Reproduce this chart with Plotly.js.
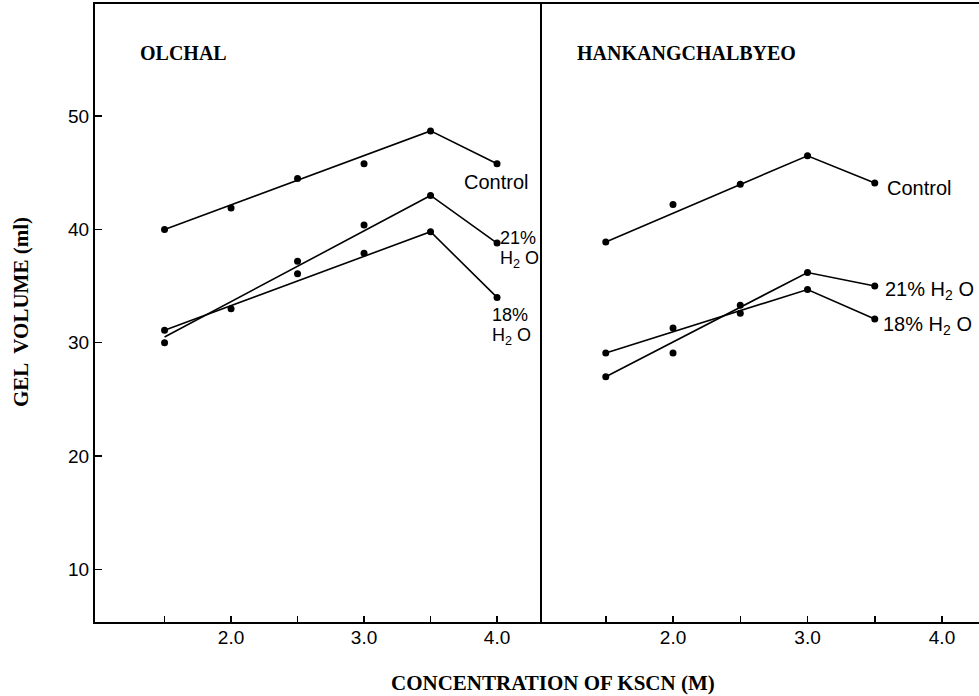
<!DOCTYPE html>
<html>
<head>
<meta charset="utf-8">
<script src="https://cdn.plot.ly/plotly-3.0.1.min.js"></script>
<style>
  html, body { margin: 0; padding: 0; background: #fff; }
  #chart { width: 979px; height: 696px; }
</style>
</head>
<body>
<div id="chart"></div>
<script>
// ---- Data ----
const olchalX = [1.5, 2.0, 2.5, 3.0, 3.5, 4.0];
const olchalControl = [40.0, 41.9, 44.5, 45.8, 48.7, 45.8];
const olchal21 = [30.0, null, 37.2, 40.4, 43.0, 38.8];
const olchal18 = [31.1, 33.0, 36.1, 37.9, 39.8, 34.0];

const hankX = [1.5, 2.0, 2.5, 3.0, 3.5];
const hankControl = [38.9, 42.2, 44.0, 46.5, 44.1];
const hank21 = [27.0, 29.1, 33.3, 36.2, 35.0];
const hank18 = [29.1, 31.3, 32.6, 34.7, 32.1];

// drawn (fitted) lines
const olchalFitX = [1.5, 3.5, 4.0];
const olchalControlFit = [40.0, 48.7, 45.8];
const olchal21Fit = [30.5, 43.0, 38.8];
const olchal18Fit = [31.1, 39.8, 34.0];

const hankFitX = [1.5, 3.0, 3.5];
const hankControlFit = [38.9, 46.5, 44.1];
const hank21Fit = [27.0, 36.2, 35.0];
const hank18Fit = [29.1, 34.7, 32.1];

const xTickVals = [2.0, 3.0, 4.0];
const xTickText = ['2.0', '3.0', '4.0'];
const xMinorTickVals = [1.5, 2.5, 3.5];
const yTickVals = [10, 20, 30, 40, 50];
const yTickText = ['10', '20', '30', '40', '50'];

const panelNames = ['OLCHAL', 'HANKANGCHALBYEO'];
const seriesLabels = ['Control', '21%', '18%'];

// ---- Traces ----
const traces = [];
function pts(x, y, xa) {
  traces.push({x: x, y: y, xaxis: xa, yaxis: 'y', type: 'scatter', mode: 'markers',
    marker: {color: '#000', size: 7}, showlegend: false, hoverinfo: 'skip', cliponaxis: false});
}
function line(x, y, xa) {
  traces.push({x: x, y: y, xaxis: xa, yaxis: 'y', type: 'scatter', mode: 'lines',
    line: {color: '#000', width: 1.6}, showlegend: false, hoverinfo: 'skip'});
}
line(olchalFitX, olchalControlFit, 'x');
line(olchalFitX, olchal21Fit, 'x');
line(olchalFitX, olchal18Fit, 'x');
pts(olchalX, olchalControl, 'x');
pts(olchalX, olchal21, 'x');
pts(olchalX, olchal18, 'x');

line(hankFitX, hankControlFit, 'x2');
line(hankFitX, hank21Fit, 'x2');
line(hankFitX, hank18Fit, 'x2');
pts(hankX, hankControl, 'x2');
pts(hankX, hank21, 'x2');
pts(hankX, hank18, 'x2');

// ---- Layout ----
const W = 979, H = 696, L = 95, R = 0, T = 4, B = 74;
const PW = W - L - R, PH = H - T - B;
const px = p => (p - L) / PW;          // pixel -> paper x
const py = p => (H - B - p) / PH;       // pixel -> paper y
const split = px(540);

const sans = {family: 'Liberation Sans, Arial, sans-serif', size: 19, color: '#000'};
const sansLab = {family: 'Liberation Sans, Arial, sans-serif', size: 20, color: '#000'};
const sansStack = {family: 'Liberation Sans, Arial, sans-serif', size: 18, color: '#000'};
const serif = {family: 'Liberation Serif, Times New Roman, serif', size: 20, color: '#000'};
const serifTitle = {family: 'Liberation Serif, Times New Roman, serif', size: 21, color: '#000'};

const xCommon = {
  tickmode: 'array', tickvals: xTickVals, ticktext: xTickText,
  ticks: 'inside', ticklen: 6, tickwidth: 1.5, tickcolor: '#000',
  minor: {tickmode: 'array', tickvals: xMinorTickVals, ticks: 'inside', ticklen: 6, tickwidth: 1.5, tickcolor: '#000', showgrid: false},
  showline: true, linecolor: '#000', linewidth: 2, mirror: true,
  showgrid: false, zeroline: false, tickfont: sans, fixedrange: true,
  ticklabelstandoff: -3
};

const annots = [];
function ann(text, x, y, font, xanchor, extra) {
  annots.push(Object.assign({text: text, xref: 'paper', yref: 'paper', x: px(x), y: py(y),
    xanchor: xanchor || 'center', yanchor: 'middle', showarrow: false, font: font}, extra || {}));
}
ann('<b>' + panelNames[0] + '</b>', 138, 53, serif, 'left');
ann('<b>' + panelNames[1] + '</b>', 575, 53, serif, 'left');

// left panel labels
ann(seriesLabels[0], 462, 182, sansLab, 'left');
ann(seriesLabels[1], 498, 238, sansStack, 'left');
ann('H<sub>2</sub> O', 498, 259, sansStack, 'left');
ann(seriesLabels[2], 490, 315, sansStack, 'left');
ann('H<sub>2</sub> O', 490, 336, sansStack, 'left');

// right panel labels
ann(seriesLabels[0], 885, 188, sansLab, 'left');
ann(seriesLabels[1] + ' H<sub>2</sub> O', 883, 290, sansLab, 'left');
ann(seriesLabels[2] + ' H<sub>2</sub> O', 881, 325, sansLab, 'left');

// axis titles
ann('<b>GEL  VOLUME (ml)</b>', 21, 312, serifTitle, 'center', {textangle: -90});
ann('<b>CONCENTRATION OF KSCN (M)</b>', 553, 683, serifTitle, 'center');

const yCommon = {
  range: [5.35, 59.9], tickmode: 'array', tickvals: yTickVals, ticktext: yTickText,
  ticks: 'inside', ticklen: 7, tickwidth: 1.5, tickcolor: '#000',
  showline: true, linecolor: '#000', linewidth: 2,
  showgrid: false, zeroline: false, tickfont: sans, fixedrange: true
};

const layout = {
  width: W, height: H,
  margin: {l: L, r: R, t: T, b: B, pad: 0},
  paper_bgcolor: '#fff', plot_bgcolor: '#fff',
  showlegend: false,
  xaxis: Object.assign({}, xCommon, {domain: [0, split], range: [0.977, 4.323]}),
  xaxis2: Object.assign({}, xCommon, {domain: [split, 1], range: [1.011, 4.275], anchor: 'y'}),
  yaxis: Object.assign({}, yCommon, {mirror: true}),
  yaxis2: Object.assign({}, yCommon, {overlaying: 'y', anchor: 'x2', side: 'left', showticklabels: false}),
  annotations: annots
};

Plotly.newPlot('chart', traces, layout, {displayModeBar: false, staticPlot: true});
</script>
</body>
</html>
